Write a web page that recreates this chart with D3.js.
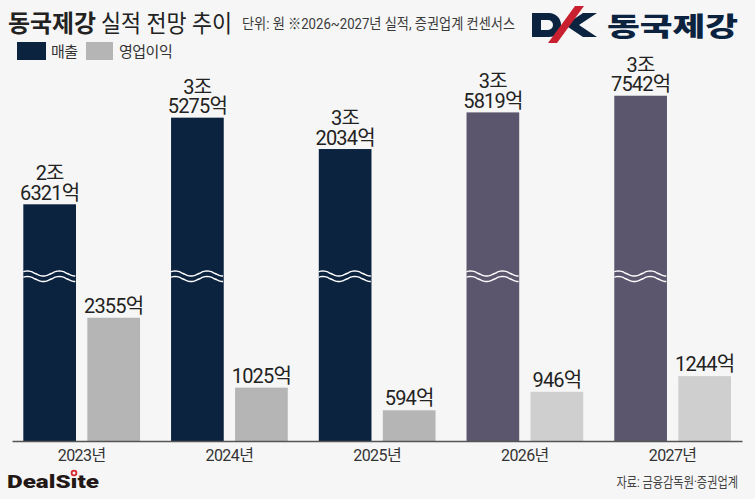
<!DOCTYPE html>
<html>
<head>
<meta charset="utf-8">
<script src="https://cdn.jsdelivr.net/npm/d3@7"></script>
<style>
  html, body { margin: 0; padding: 0; background: #f6f6f6; }
  svg { display: block; font-family: Roboto, "Noto Sans CJK KR", sans-serif; }
</style>
</head>
<body>
<svg id="chart" width="755" height="499"></svg>
<script>
// chart data
const years = ["2023년", "2024년", "2025년", "2026년", "2027년"];
const revenue = [26321, 35275, 32034, 35819, 37542];   // 억원
const opProfit = [2355, 1025, 594, 946, 1244];         // 억원
const forecast = [false, false, false, true, true];
const seriesNames = ["매출", "영업이익"];

// colours
const navy = "#0c2340";
const navyFc = "#5b566e";
const grey = "#b5b5b5";
const greyFc = "#cfcfcf";

const svg = d3.select("#chart");
const W = 755, base = 441.5;

svg.append("rect").attr("width", W).attr("height", 499).attr("fill", "#f6f6f6");

// scales
const x = d3.scaleBand()
  .domain(years)
  .range([7.8, 746.5])
  .paddingInner(0.21)
  .paddingOuter(0.105);
const xs = d3.scaleBand()
  .domain(seriesNames)
  .range([0, x.bandwidth()])
  .paddingInner(0.177);
// revenue axis is broken, so it starts above zero
const yRev = d3.scaleLinear().domain([1808, 38000]).range([base, 91.3]);
const yOp = d3.scaleLinear().domain([0, 2400]).range([base, 315.4]);

const rows = years.map((y, i) => ({
  year: y, rev: revenue[i], op: opProfit[i], fc: forecast[i]
}));

// bars
const g = svg.selectAll("g.year")
  .data(rows)
  .enter()
  .append("g")
  .attr("class", "year")
  .attr("transform", d => "translate(" + x(d.year) + ",0)");

g.append("rect")
  .attr("x", xs("매출"))
  .attr("width", xs.bandwidth())
  .attr("y", d => yRev(d.rev))
  .attr("height", d => base - yRev(d.rev))
  .attr("fill", d => d.fc ? navyFc : navy);

g.append("rect")
  .attr("x", xs("영업이익"))
  .attr("width", xs.bandwidth())
  .attr("y", d => yOp(d.op))
  .attr("height", d => base - yOp(d.op))
  .attr("fill", d => d.fc ? greyFc : grey);

// wavy break marks on revenue bars
const bw = xs.bandwidth();
const wave = d3.line().curve(d3.curveBasis);
function wavePts(y0) {
  const pts = [];
  for (let t = 0; t <= bw; t += 2) {
    pts.push([xs("매출") + t, y0 - 2.6 * Math.sin((t + 4) / 32 * 2 * Math.PI)]);
  }
  return pts;
}
[273.5, 279].forEach(yy => {
  g.append("path")
    .attr("d", wave(wavePts(yy)))
    .attr("fill", "none")
    .attr("stroke", "#ffffff")
    .attr("stroke-width", 1.4);
});

// value labels (two lines for revenue)
g.append("text")
  .attr("x", xs("매출") + bw / 2)
  .attr("y", d => yRev(d.rev) - 24)
  .attr("text-anchor", "middle")
  .attr("font-size", 20)
  .attr("letter-spacing", "-0.8px")
  .attr("fill", "#222")
  .text(d => Math.floor(d.rev / 10000) + "조");
g.append("text")
  .attr("x", xs("매출") + bw / 2)
  .attr("y", d => yRev(d.rev) - 4.5)
  .attr("text-anchor", "middle")
  .attr("font-size", 20)
  .attr("letter-spacing", "-0.8px")
  .attr("fill", "#222")
  .text(d => (d.rev % 10000) + "억");

g.append("text")
  .attr("x", xs("영업이익") + bw / 2)
  .attr("y", d => yOp(d.op) - 5)
  .attr("text-anchor", "middle")
  .attr("font-size", 20)
  .attr("letter-spacing", "-0.8px")
  .attr("fill", "#222")
  .text(d => d.op + "억");

// x axis
const xAxis = d3.axisBottom(x).tickSize(0).tickPadding(8);
const ax = svg.append("g")
  .attr("transform", "translate(0," + base + ")")
  .call(xAxis);
ax.select(".domain").remove();
ax.selectAll("text")
  .attr("font-size", 16)
  .attr("letter-spacing", "-0.6px")
  .attr("fill", "#333")
  .attr("font-family", 'Roboto, "Noto Sans CJK KR", sans-serif');
svg.append("line")
  .attr("x1", 12.5).attr("x2", 742.5)
  .attr("y1", base).attr("y2", base)
  .attr("stroke", "#555").attr("stroke-width", 1.6);

// title
const title = svg.append("text").attr("x", 8).attr("y", 32).attr("fill", "#222");
title.append("tspan").attr("font-size", 24).attr("font-weight", 700)
  .attr("textLength", 88).attr("lengthAdjust", "spacingAndGlyphs").text("동국제강");
title.append("tspan").attr("dx", 5).attr("font-size", 24).attr("font-weight", 400)
  .attr("textLength", 131).attr("lengthAdjust", "spacingAndGlyphs").text("실적 전망 추이");
svg.append("text")
  .attr("x", 242).attr("y", 29)
  .attr("font-size", 15).attr("fill", "#3a3a3a")
  .attr("textLength", 273).attr("lengthAdjust", "spacingAndGlyphs")
  .text("단위: 원  ※2026~2027년 실적, 증권업계 컨센서스");

// legend
const legend = svg.selectAll("g.legend")
  .data(seriesNames)
  .enter()
  .append("g")
  .attr("class", "legend")
  .attr("transform", (d, i) => "translate(" + [17, 86][i] + ",42)");
legend.append("rect")
  .attr("width", (d, i) => [29, 27][i]).attr("height", 18)
  .attr("fill", (d, i) => [navy, grey][i]);
legend.append("text")
  .attr("x", (d, i) => [34, 33][i]).attr("y", 15)
  .attr("font-size", 15).attr("fill", "#333")
  .attr("letter-spacing", "-0.5px")
  .text(d => d);

// company logo
const logo = svg.append("g");
logo.append("path") // D
  .attr("d", "M532,13 H549 A12,12 0 0 1 561,25 A12,12 0 0 1 549,37 H532 Z M541,20 V30 H548 A5,5 0 0 0 548,20 Z")
  .attr("fill", navy).attr("fill-rule", "evenodd");
logo.append("path") // K arms
  .attr("d", "M597,13 L583,13 L565,25 L583,37 L597,37 L579,25 Z")
  .attr("fill", navy);
logo.append("path") // red stroke
  .attr("d", "M575,6 L584,6 L557,43 L548,43 Z")
  .attr("fill", "#c8202f");
logo.append("text")
  .attr("x", 607).attr("y", 36)
  .attr("font-size", 26).attr("font-weight", 900).attr("fill", navy)
  .attr("textLength", 131).attr("lengthAdjust", "spacingAndGlyphs")
  .text("동국제강");

// footer: DealSite wordmark with a red ring as the dot of the i
const brand = svg.append("text")
  .attr("x", 7).attr("y", 488)
  .attr("font-size", 19).attr("font-weight", 900).attr("fill", "#231815")
  .attr("textLength", 92).attr("lengthAdjust", "spacingAndGlyphs")
  .text("DealS\u0131te");
const node = brand.node();
const ix0 = node.getStartPositionOfChar(5).x;
const ix1 = node.getEndPositionOfChar(5).x;
svg.append("circle")
  .attr("cx", (ix0 + ix1) / 2).attr("cy", 473)
  .attr("r", 2.4)
  .attr("fill", "#f6f6f6").attr("stroke", "#d7282f").attr("stroke-width", 1.8);

// source note, horizontally condensed
svg.append("g")
  .attr("transform", "translate(738,487) scale(0.8,1)")
  .append("text")
  .attr("text-anchor", "end")
  .attr("font-size", 14).attr("fill", "#444")
  .text("자료: 금융감독원·증권업계");
</script>
</body>
</html>
